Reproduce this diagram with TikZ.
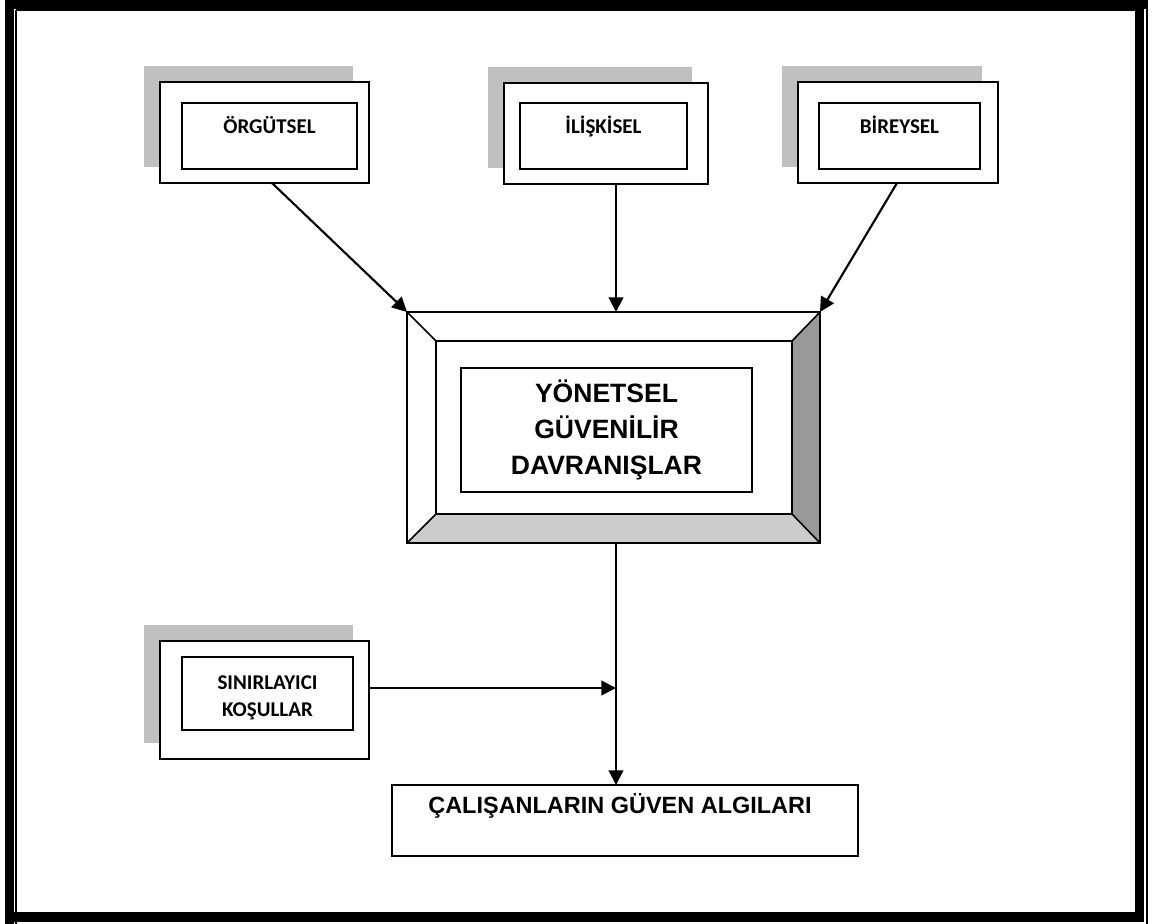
\documentclass[tikz,border=0pt]{standalone}
\usepackage{fontspec}
\newfontfamily\calib{Carlito}
\newfontfamily\arial{Liberation Sans}
\usetikzlibrary{arrows.meta,calc}
\definecolor{shadowgray}{HTML}{C0C0C0}
\definecolor{darkbevel}{HTML}{999999}
\definecolor{lightbevel}{HTML}{CCCCCC}
\tikzset{
  px/.style 2 args={minimum width=#1*0.75pt, minimum height=#2*0.75pt},
  box/.style={draw, line width=1.2pt, fill=white, inner sep=0pt, outer sep=0pt},
  shadowbox/.style={fill=shadowgray, inner sep=0pt, outer sep=0pt},
  lbl/.style={font=\calib\bfseries\fontsize{15.75}{20.25}\selectfont, inner sep=0pt, anchor=base, align=center},
  arr/.style={line width=1.6pt, -{Triangle[length=11pt,width=11pt]}},
  frame/.style={fill=black},
  thinframe/.style={line width=1.3pt},
}
\begin{document}
\begin{tikzpicture}[x=0.75pt,y=-0.75pt]
\useasboundingbox (0,0) rectangle (1153,924);
\fill[white] (0,0) rectangle (1153,924);
% page border
\fill[frame] (5,0) rectangle (1148,9);
\fill[frame] (5,0) rectangle (14,924);
\fill[frame] (1135,9) rectangle (1144,922);
\fill[frame] (14,912) rectangle (1144,922);
\draw[thinframe] (16.3,10.3) -- (1135,10.3);
\draw[thinframe] (16.3,10.3) -- (16.3,924);
\draw[thinframe] (1147,9) -- (1147,924);

% ORGUTSEL
\node[shadowbox, px={209}{101}] (orgS) at (248.5,116.5) {};
\node[box, px={209}{101}] (org) at (264.5,132.5) {};
\node[box, px={175}{66}] (orgI) at (269.5,136) {};
\node[lbl] (orgT) at (269.5,133) {ÖRGÜTSEL};

% ILISKISEL
\node[shadowbox, px={204}{101}] (relS) at (590,117.5) {};
\node[box, px={204}{101}] (rel) at (606,133.5) {};
\node[box, px={167}{66}] (relI) at (603.5,136) {};
\node[lbl] (relT) at (603.5,133) {İLİŞKİSEL};

% BIREYSEL
\node[shadowbox, px={200}{101}] (birS) at (882,116.5) {};
\node[box, px={200}{101}] (bir) at (898,132.5) {};
\node[box, px={161}{66}] (birI) at (899.5,136) {};
\node[lbl] (birT) at (899.5,133) {BİREYSEL};

% SINIRLAYICI
\node[shadowbox, px={209}{118}] (sinS) at (248.5,684) {};
\node[box, px={209}{118}] (sin) at (264.5,700) {};
\node[box, px={171}{73}] (sinI) at (267.5,693.5) {};
\node[lbl] (sinT) at (267.5,716) {SINIRLAYICI\\KOŞULLAR};

% big bevel box
\node[box, px={413}{231}] (big) at (613.5,427.5) {};
\node[box, px={356}{173}] (bigB) at (614,427.5) {};
\fill[darkbevel] (big.north east) -- (big.south east) -- (bigB.south east) -- (bigB.north east) -- cycle;
\fill[lightbevel] (big.south west) -- (big.south east) -- (bigB.south east) -- (bigB.south west) -- cycle;
\draw[line width=1.2pt] (big.north west) rectangle (big.south east);
\draw[line width=1.2pt] (bigB.north west) rectangle (bigB.south east);
\draw[line width=1.2pt] (big.north west) -- (bigB.north west);
\draw[line width=1.2pt] (big.north east) -- (bigB.north east);
\draw[line width=1.2pt] (big.south west) -- (bigB.south west);
\draw[line width=1.2pt] (big.south east) -- (bigB.south east);
\node[box, px={291}{124}, align=center, font=\arial\bfseries\fontsize{19.9}{27}\selectfont] (bigI) at (606.5,430) {YÖNETSEL\\GÜVENİLİR\\DAVRANIŞLAR};

% output box
\node[box, px={466}{71}] (out) at (625,820.5) {};
\node[inner sep=0pt, anchor=base, font=\arial\bfseries\fontsize{17.6}{21}\selectfont] (outT) at (620,813) {ÇALIŞANLARIN GÜVEN ALGILARI};

% connectors
\coordinate (jx) at (616,0);
\coordinate (j) at (616,688);
\draw[arr] ([xshift=5.6pt]org.south) -- (big.north west);
\draw[arr] (rel.south -| jx) -- (big.north -| jx);
\draw[arr] ([xshift=-0.75pt]bir.south) -- (big.north east);
\draw[arr] (big.south -| jx) -- (out.north -| jx);
\draw[arr] (sin.east |- j) -- (j);
\end{tikzpicture}
\end{document}
